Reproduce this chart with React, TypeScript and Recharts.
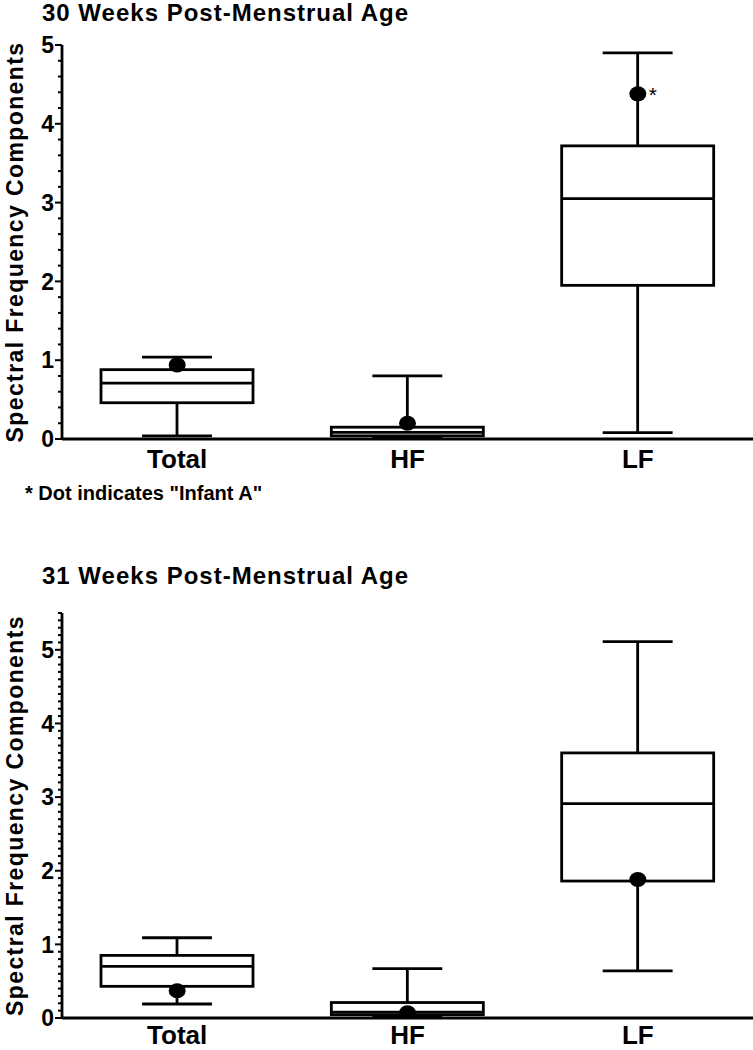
import React from "react";
import { Bar, ComposedChart, Scatter, XAxis, YAxis } from "recharts";

const FONT = "'Liberation Sans', Arial, Helvetica, sans-serif";

const CATEGORIES = ["Total", "HF", "LF"];

// 30 weeks post-menstrual age
const W30_MIN = [0.04, 0.02, 0.08];
const W30_Q1 = [0.46, 0.04, 1.95];
const W30_MEDIAN = [0.71, 0.085, 3.05];
const W30_Q3 = [0.88, 0.15, 3.72];
const W30_MAX = [1.04, 0.8, 4.9];
const W30_INFANT_A = [0.94, 0.2, 4.38];
const W30_STAR = [false, false, true];

// 31 weeks post-menstrual age
const W31_MIN = [0.19, 0.02, 0.64];
const W31_Q1 = [0.43, 0.045, 1.86];
const W31_MEDIAN = [0.7, 0.08, 2.91];
const W31_Q3 = [0.85, 0.21, 3.6];
const W31_MAX = [1.09, 0.67, 5.11];
const W31_INFANT_A = [0.37, 0.07, 1.88];
const W31_STAR = [false, false, false];

// y axis: top value and minor tick step
const W30_TOP = 5;
const W30_STEP = 0.2;
const W31_TOP = 5.5;
const W31_STEP = 0.1;

type Row = {
  name: string;
  range: [number, number];
  q1: number;
  median: number;
  q3: number;
  dot: number;
  star: boolean;
};

function makeRows(min: number[], q1: number[], med: number[], q3: number[], max: number[], dot: number[], star: boolean[]): Row[] {
  return CATEGORIES.map((name, i) => ({
    name,
    range: [min[i], max[i]],
    q1: q1[i],
    median: med[i],
    q3: q3[i],
    dot: dot[i],
    star: star[i],
  }));
}

function makeTicks(top: number, step: number) {
  const n = Math.round(top / step);
  return Array.from({ length: n + 1 }, (_, i) => Number((i * step).toFixed(2)));
}

const rows30 = makeRows(W30_MIN, W30_Q1, W30_MEDIAN, W30_Q3, W30_MAX, W30_INFANT_A, W30_STAR);
const rows31 = makeRows(W31_MIN, W31_Q1, W31_MEDIAN, W31_Q3, W31_MAX, W31_INFANT_A, W31_STAR);

function YTick(props: any) {
  const { x, y, payload } = props;
  const v = payload.value as number;
  const major = Math.abs(v - Math.round(v)) < 1e-6;
  return (
    <g>
      <line x1={x} x2={x - (major ? 7 : 4)} y1={y} y2={y} stroke="#000" strokeWidth={2} />
      {major && (
        <text x={x - 8} y={y} dy="0.36em" textAnchor="end" fontSize={23} fontWeight="bold" fontFamily={FONT} fill="#000">
          {v}
        </text>
      )}
    </g>
  );
}

function XTick(props: any) {
  const { x, y, payload, offset } = props;
  return (
    <text x={x} y={y + offset} textAnchor="middle" fontSize={26} fontWeight="bold" fontFamily={FONT} fill="#000">
      {payload.value}
    </text>
  );
}

function BoxShape(props: any) {
  const { x, y, width, height, payload } = props;
  const top = Math.min(y, y + height);
  const bottom = Math.max(y, y + height);
  const [lo, hi] = payload.range as [number, number];
  const py = (v: number) => bottom - ((v - lo) / (hi - lo)) * (bottom - top);
  const cx = x + width / 2;
  const cap = width * 0.23;
  const yQ1 = py(payload.q1);
  const yQ3 = py(payload.q3);
  const yMed = py(payload.median);
  const s = { stroke: "#000", strokeWidth: 2.8 };
  return (
    <g>
      <line x1={cx} x2={cx} y1={top} y2={yQ3} {...s} />
      <line x1={cx} x2={cx} y1={yQ1} y2={bottom} {...s} />
      <line x1={cx - cap} x2={cx + cap} y1={top} y2={top} {...s} />
      <line x1={cx - cap} x2={cx + cap} y1={bottom} y2={bottom} {...s} />
      <rect x={x} y={yQ3} width={width} height={yQ1 - yQ3} fill="#fff" {...s} />
      <line x1={x} x2={x + width} y1={yMed} y2={yMed} {...s} />
    </g>
  );
}

function DotShape(props: any) {
  const { cx, cy, payload } = props;
  return (
    <g>
      <ellipse cx={cx} cy={cy} rx={8.5} ry={7.5} fill="#000" />
      {payload.star && (
        <text x={cx + 11} y={cy + 8} fontSize={21} fontFamily={FONT} fill="#000">
          *
        </text>
      )}
    </g>
  );
}

function YLabel(props: any) {
  const { viewBox } = props;
  const cy = viewBox.y + viewBox.height / 2;
  return (
    <text
      x={23}
      y={cy}
      transform={`rotate(-90, 23, ${cy})`}
      textAnchor="middle"
      fontSize={23}
      fontWeight="bold"
      letterSpacing={1.4}
      fontFamily={FONT}
      fill="#000"
    >
      Spectral Frequency Components
    </text>
  );
}

function BoxPanel({ rows, top, step, height, marginTop, xHeight, labelOffset }: { rows: Row[]; top: number; step: number; height: number; marginTop: number; xHeight: number; labelOffset: number }) {
  return (
    <ComposedChart width={753} height={height} data={rows} margin={{ top: marginTop, right: 0, bottom: 0, left: 0 }}>
      <XAxis
        dataKey="name"
        height={xHeight}
        tickSize={0}
        tickMargin={0}
        tickLine={false}
        axisLine={{ stroke: "#000", strokeWidth: 2.8 }}
        tick={<XTick offset={labelOffset} />}
      />
      <YAxis
        type="number"
        width={62}
        domain={[0, top]}
        ticks={makeTicks(top, step)}
        interval={0}
        allowDataOverflow
        tickSize={0}
        tickMargin={0}
        tickLine={false}
        axisLine={{ stroke: "#000", strokeWidth: 2.8 }}
        tick={<YTick />}
        label={<YLabel />}
      />
      <Bar dataKey="range" barSize={152} shape={<BoxShape />} isAnimationActive={false} />
      <Scatter dataKey="dot" shape={<DotShape />} isAnimationActive={false} />
    </ComposedChart>
  );
}

const titleStyle: React.CSSProperties = {
  position: "absolute",
  left: 42,
  fontFamily: FONT,
  fontWeight: "bold",
  fontSize: 24,
  letterSpacing: 1,
  lineHeight: "26px",
  whiteSpace: "nowrap",
};

export default function App() {
  return (
    <div style={{ position: "absolute", left: 0, top: 0, width: 753, height: 1050, overflow: "hidden", background: "#fff" }}>
      <div style={{ ...titleStyle, top: 0 }}>30 Weeks Post-Menstrual Age</div>
      <div style={{ position: "absolute", left: 0, top: 0 }}>
        <BoxPanel rows={rows30} top={W30_TOP} step={W30_STEP} height={500} marginTop={45} xHeight={61} labelOffset={29} />
      </div>
      <div
        style={{
          position: "absolute",
          left: 25,
          top: 482,
          fontFamily: FONT,
          fontWeight: "bold",
          fontSize: 20,
          lineHeight: "22px",
          whiteSpace: "nowrap",
        }}
      >
        * Dot indicates "Infant A"
      </div>
      <div style={{ ...titleStyle, top: 563 }}>31 Weeks Post-Menstrual Age</div>
      <div style={{ position: "absolute", left: 0, top: 560 }}>
        <BoxPanel rows={rows31} top={W31_TOP} step={W31_STEP} height={490} marginTop={53} xHeight={32} labelOffset={26} />
      </div>
    </div>
  );
}
